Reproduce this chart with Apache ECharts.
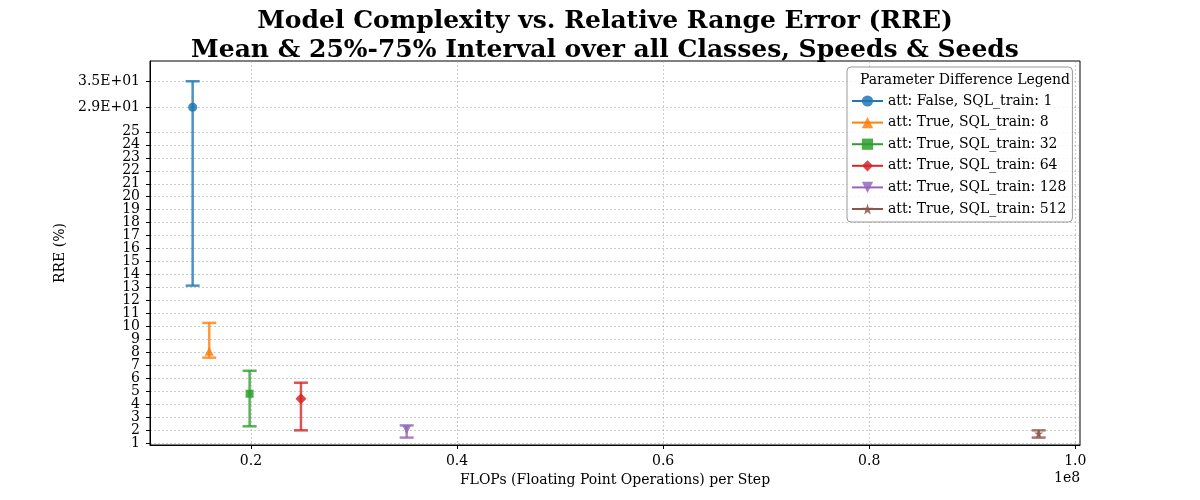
<!DOCTYPE html>
<html>
<head>
<meta charset="utf-8">
<script src="https://cdn.jsdelivr.net/npm/echarts@6/dist/echarts.min.js"></script>
<style>html,body{margin:0;background:#fff}#main{width:1200px;height:500px}</style>
</head>
<body>
<div id="main"></div>
<script>
// groups (legend labels)
const groupNames = [
  'att: False, SQL_train: 1',
  'att: True, SQL_train: 8',
  'att: True, SQL_train: 32',
  'att: True, SQL_train: 64',
  'att: True, SQL_train: 128',
  'att: True, SQL_train: 512'
];
// FLOPs per step
const flops = [1.434e7, 1.595e7, 1.987e7, 2.485e7, 3.511e7, 9.645e7];
// RRE (%) mean and 25% / 75% quantiles
const rreMean = [29, 8.1, 4.82, 4.44, 2.05, 1.75];
const rreQ25 = [13.15, 7.6, 2.31, 2.0, 1.44, 1.44];
const rreQ75 = [35, 10.28, 6.59, 5.67, 2.38, 2.0];

// tick labels
const yTicks = [1,2,3,4,5,6,7,8,9,10,11,12,13,14,15,16,17,18,19,20,21,22,23,24,25,29,35];
const xTicks = [0.2e8, 0.4e8, 0.6e8, 0.8e8, 1.0e8];

// the y scale is linear up to 25 and compressed above it
const breakReal = [25, 29, 35];
const breakAxis = [25, 26.9, 28.9];
const yMin = 0.87, yMax = 30.46;

let color = ['#1f77b4', '#ff7f0e', '#2ca02c', '#d62728', '#9467bd', '#8c564b'];
let symbols = [
  'circle', 'triangle', 'rect', 'diamond',
  'path://M0,0 L10,0 L5,10 Z',
  'path://M50,0 L61,35 L98,35 L68,57 L79,91 L50,70 L21,91 L32,57 L2,35 L39,35 Z'
];
let symbolSizes = [9, 9, 8, 11, 9, 9];
const FONT = 'DejaVu Serif';

function toAxis(v) {
  if (v <= breakReal[0]) return v;
  let n = breakReal.length;
  for (let i = 1; i < n; i++) {
    if (v <= breakReal[i] || i === n - 1) {
      let r = (v - breakReal[i - 1]) / (breakReal[i] - breakReal[i - 1]);
      return breakAxis[i - 1] + r * (breakAxis[i] - breakAxis[i - 1]);
    }
  }
}

function sci(v) {
  let e = Math.floor(Math.log10(v));
  let m = (v / Math.pow(10, e)).toFixed(1);
  let s = e < 0 ? '-' : '+';
  let ea = Math.abs(e);
  return m + 'E' + s + (ea < 10 ? '0' + ea : ea);
}

function yLabel(t) {
  for (let v of yTicks) {
    if (Math.abs(toAxis(v) - t) < 1e-6) return v > 25 ? sci(v) : String(v);
  }
  return '';
}

// an empty label at the axis minimum keeps echarts from dropping "1" or "2"
const yLabelValues = [yMin + 0.01].concat(yTicks.map(toAxis));

let series = [];
groupNames.forEach((name, i) => {
  // 25%-75% interval
  series.push({
    type: 'custom',
    name: 'interval ' + i,
    z: 2,
    renderItem: function (params, api) {
      let x = api.value(0);
      let lo = api.coord([x, api.value(1)]);
      let hi = api.coord([x, api.value(2)]);
      let w = 7;
      let st = { stroke: color[i], lineWidth: 2.5, opacity: 0.8 };
      return {
        type: 'group',
        children: [
          { type: 'line', shape: { x1: lo[0], y1: lo[1], x2: hi[0], y2: hi[1] }, style: st },
          { type: 'line', shape: { x1: lo[0] - w, y1: lo[1], x2: lo[0] + w, y2: lo[1] }, style: st },
          { type: 'line', shape: { x1: hi[0] - w, y1: hi[1], x2: hi[0] + w, y2: hi[1] }, style: st }
        ]
      };
    },
    data: [[flops[i], toAxis(rreQ25[i]), toAxis(rreQ75[i])]]
  });
  // mean
  series.push({
    type: 'line',
    name: name,
    z: 3,
    symbol: symbols[i],
    symbolSize: symbolSizes[i],
    itemStyle: { color: color[i], opacity: 0.85 },
    lineStyle: { color: color[i], width: 2 },
    data: [[flops[i], toAxis(rreMean[i])]]
  });
});

let chart = echarts.init(document.getElementById('main'));
chart.setOption({
  animation: false,
  title: [
    {
      text: 'Model Complexity vs. Relative Range Error (RRE)\nMean & 25%-75% Interval over all Classes, Speeds & Seeds',
      left: 600,
      top: 2,
      textAlign: 'center',
      textStyle: { fontFamily: FONT, fontSize: 25, fontWeight: 'bold', color: '#000', lineHeight: 29 }
    },
    {
      text: 'Parameter Difference Legend',
      left: 960,
      top: 68,
      textAlign: 'center',
      z: 10,
      textStyle: { fontFamily: FONT, fontSize: 14, fontWeight: 'normal', color: '#000' }
    }
  ],
  legend: {
    data: groupNames,
    orient: 'vertical',
    left: 847,
    top: 67,
    itemWidth: 31,
    itemHeight: 14,
    itemGap: 7.6,
    padding: [27, 6, 6, 4],
    borderColor: '#999',
    borderWidth: 1,
    borderRadius: 4,
    backgroundColor: 'rgba(255,255,255,0.85)',
    textStyle: { fontFamily: FONT, fontSize: 14, color: '#000' }
  },
  grid: {
    left: 150, right: 120, top: 61, bottom: 55,
    show: true, borderColor: '#000', borderWidth: 1
  },
  xAxis: {
    type: 'value',
    min: 0.102e8,
    max: 1.0046e8,
    name: 'FLOPs (Floating Point Operations) per Step',
    nameLocation: 'middle',
    nameGap: 28,
    nameTextStyle: { fontFamily: FONT, fontSize: 14, color: '#000' },
    axisLine: { lineStyle: { color: '#000' } },
    axisTick: { customValues: xTicks, length: 4, lineStyle: { color: '#000' } },
    axisLabel: {
      customValues: xTicks,
      fontFamily: FONT, fontSize: 14, color: '#000', margin: 9,
      formatter: v => (v / 1e8).toFixed(1)
    },
    splitLine: { show: true, lineStyle: { color: '#999', type: [2, 2], width: 0.5 } }
  },
  yAxis: {
    type: 'value',
    min: yMin,
    max: yMax,
    name: 'RRE (%)',
    nameLocation: 'middle',
    nameGap: 79,
    nameTextStyle: { fontFamily: FONT, fontSize: 14, color: '#000' },
    axisLine: { show: true, lineStyle: { color: '#000' } },
    axisTick: { show: true, customValues: yTicks.map(toAxis), length: 4, lineStyle: { color: '#000' } },
    axisLabel: {
      customValues: yLabelValues,
      showMinLabel: true,
      hideOverlap: false,
      fontFamily: FONT, fontSize: 14, color: '#000', margin: 10,
      formatter: yLabel
    },
    splitLine: { show: true, lineStyle: { color: '#999', type: [2, 2], width: 0.5 } }
  },
  graphic: [
    {
      type: 'text', left: 1054, top: 471,
      style: { text: '1e8', fontFamily: FONT, fontSize: 14, fill: '#000' }
    }
  ],
  series: series
});
window.onresize = () => chart.resize();
</script>
</body>
</html>
